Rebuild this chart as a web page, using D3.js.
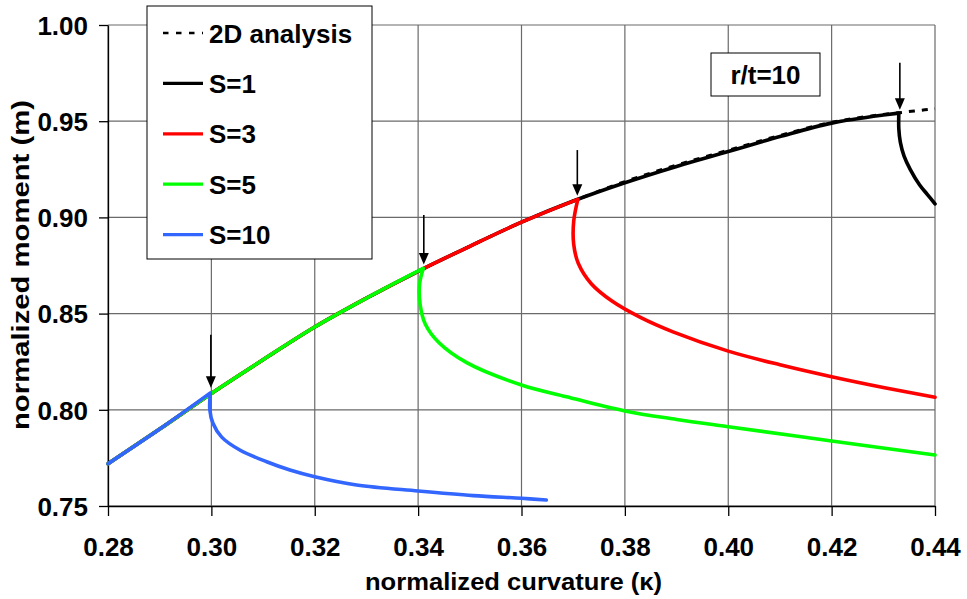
<!DOCTYPE html>
<html>
<head>
<meta charset="utf-8">
<script src="https://cdn.jsdelivr.net/npm/d3@7"></script>
<style>
  html, body { margin: 0; padding: 0; background: #fff; }
  svg { display: block; }
  text { font-family: "Liberation Sans", Arial, sans-serif; font-weight: bold; fill: #000; }
</style>
</head>
<body>
<svg id="chart" width="967" height="599"></svg>
<script>
// ---------- data ----------
const kappaTicks = [0.28, 0.30, 0.32, 0.34, 0.36, 0.38, 0.40, 0.42, 0.44];
const momentTicks = [0.75, 0.80, 0.85, 0.90, 0.95, 1.00];

const seriesNames = ["2D analysis", "S=1", "S=3", "S=5", "S=10"];

const series2D = [
  [0.28, 0.772], [0.29, 0.790], [0.30, 0.8085], [0.31, 0.826], [0.32, 0.843],
  [0.33, 0.858], [0.34, 0.872], [0.35, 0.885], [0.36, 0.8975], [0.37, 0.9085],
  [0.38, 0.9186], [0.39, 0.9272], [0.40, 0.9349], [0.41, 0.9426], [0.42, 0.9494],
  [0.43, 0.9535], [0.433, 0.9544], [0.436, 0.9553], [0.44, 0.9565]
];

const seriesS1 = [
  [0.28, 0.772], [0.29, 0.790], [0.30, 0.8085], [0.31, 0.826], [0.32, 0.843],
  [0.33, 0.858], [0.34, 0.872], [0.35, 0.885], [0.36, 0.8975], [0.37, 0.9085],
  [0.38, 0.9180], [0.39, 0.9265], [0.40, 0.9342], [0.41, 0.9420], [0.42, 0.9490],
  [0.43, 0.9532], [0.433, 0.9542],
  [0.4330, 0.946], [0.4333, 0.939], [0.4340, 0.932], [0.4352, 0.925],
  [0.4370, 0.917], [0.4385, 0.912], [0.4400, 0.907]
];

const seriesS3 = [
  [0.28, 0.772], [0.29, 0.790], [0.30, 0.8085], [0.31, 0.826], [0.32, 0.843],
  [0.33, 0.858], [0.34, 0.872], [0.35, 0.885], [0.36, 0.8975], [0.3709, 0.9094],
  [0.3701, 0.8980], [0.3701, 0.8860], [0.3710, 0.8760], [0.3735, 0.8655],
  [0.3775, 0.8565], [0.3830, 0.8480], [0.3893, 0.8405], [0.40, 0.8305], [0.41, 0.8234],
  [0.42, 0.8172], [0.43, 0.8116], [0.44, 0.8065]
];

const seriesS5 = [
  [0.28, 0.772], [0.29, 0.790], [0.30, 0.8085], [0.31, 0.826], [0.32, 0.843],
  [0.33, 0.858], [0.341, 0.8735],
  [0.3403, 0.8657], [0.3404, 0.8545], [0.3414, 0.8445], [0.3440, 0.8350],
  [0.3494, 0.8245], [0.36, 0.8129], [0.3687, 0.8068], [0.38, 0.7994],
  [0.39, 0.7950], [0.40, 0.7912], [0.42, 0.7838], [0.44, 0.7765]
];

const seriesS10 = [
  [0.28, 0.772], [0.29, 0.790], [0.2998, 0.8088],
  [0.2997, 0.8000], [0.3003, 0.7930], [0.3020, 0.7858], [0.3055, 0.7791],
  [0.3107, 0.7730], [0.3152, 0.7687], [0.32, 0.7652], [0.3281, 0.7609],
  [0.34, 0.7578], [0.3507, 0.7554], [0.36, 0.7540], [0.3648, 0.7531]
];

// bifurcation arrows: [kappa, moment at top, moment at tip]
const arrows = [
  [0.2999, 0.839, 0.8115],
  [0.3411, 0.9012, 0.8755],
  [0.3708, 0.935, 0.9112],
  [0.4332, 0.9804, 0.9560]
];

const annotationText = "r/t=10";
const xTitle = "normalized curvature (\u03ba)";
const yTitle = "normalized moment (m)";

// ---------- layout ----------
const svg = d3.select("#chart");
const L = 108, R = 935, T = 25, B = 506;

const x = d3.scaleLinear().domain([0.28, 0.44]).range([L, R]);
const y = d3.scaleLinear().domain([0.75, 1.00]).range([B, T]);

// grid
const grid = svg.append("g");
grid.selectAll("line.v").data(kappaTicks).enter().append("line")
  .attr("x1", d => x(d)).attr("x2", d => x(d)).attr("y1", T).attr("y2", B)
  .attr("stroke", "#6a6a6a").attr("stroke-width", 1.2);
grid.selectAll("line.h").data(momentTicks).enter().append("line")
  .attr("x1", L).attr("x2", R).attr("y1", d => y(d)).attr("y2", d => y(d))
  .attr("stroke", "#6a6a6a").attr("stroke-width", 1.2);

// axes
const xAxis = d3.axisBottom(x).tickValues(kappaTicks).tickFormat(d3.format(".2f"))
  .tickSizeInner(10).tickSizeOuter(0).tickPadding(22);
const yAxis = d3.axisLeft(y).tickValues(momentTicks).tickFormat(d3.format(".2f"))
  .tickSizeInner(9).tickSizeOuter(0).tickPadding(11);

const gx = svg.append("g").attr("transform", `translate(0,${B})`).call(xAxis);
const gy = svg.append("g").attr("transform", `translate(${L},0)`).call(yAxis);
[gx, gy].forEach(g => {
  g.select(".domain").attr("stroke", "#000").attr("stroke-width", 1.3);
  g.selectAll(".tick line").attr("stroke", "#000").attr("stroke-width", 1.3);
  g.selectAll(".tick text").attr("font-size", 26).attr("font-weight", "bold")
    .attr("font-family", "Liberation Sans, Arial, sans-serif").attr("fill", "#000");
});
gy.selectAll(".tick text").attr("dy", "0.36em");

// curves: pre-buckling branch (monotone in x) and smooth post-buckling branch
const preLine = d3.line().x(d => x(d[0])).y(d => y(d[1])).curve(d3.curveMonotoneX);
const postLine = d3.line().x(d => x(d[0])).y(d => y(d[1])).curve(d3.curveCatmullRom.alpha(0.5));
const plot = svg.append("g");
plot.append("path").datum(series2D).attr("d", preLine).attr("fill", "none")
  .attr("stroke", "#000").attr("stroke-width", 3).attr("stroke-dasharray", "6,7");
const colored = [
  [seriesS1, "#000000"],
  [seriesS3, "#ff0000"],
  [seriesS5, "#00ff00"],
  [seriesS10, "#3366ff"]
];
colored.forEach(([data, c]) => {
  const peak = d3.maxIndex(data, d => d[1]);
  const pre = data.slice(0, peak + 1);
  const post = data.slice(peak);
  const d = preLine(pre) + postLine(post).replace(/^M[^LC]*/, "");
  plot.append("path").attr("d", d).attr("fill", "none")
    .attr("stroke", c).attr("stroke-width", 3.6)
    .attr("stroke-linejoin", "round").attr("stroke-linecap", "round");
});

// arrows
const ag = svg.append("g");
arrows.forEach(([k, m0, m1]) => {
  const ax = x(k), y0 = y(m0), y1 = y(m1);
  ag.append("line").attr("x1", ax).attr("x2", ax).attr("y1", y0).attr("y2", y1 - 9)
    .attr("stroke", "#000").attr("stroke-width", 1.6);
  ag.append("path")
    .attr("d", `M${ax - 5},${y1 - 11.5} L${ax + 5},${y1 - 11.5} L${ax},${y1} Z`)
    .attr("fill", "#000");
});

// r/t annotation
svg.append("rect").attr("x", 711).attr("y", 53).attr("width", 109).attr("height", 43)
  .attr("fill", "#fff").attr("stroke", "#000").attr("stroke-width", 1);
svg.append("text").attr("x", 765.5).attr("y", 84).attr("text-anchor", "middle")
  .attr("font-size", 26).text(annotationText);

// legend
const lg = svg.append("g");
lg.append("rect").attr("x", 147).attr("y", 6).attr("width", 225).attr("height", 253)
  .attr("fill", "#fff").attr("stroke", "#000").attr("stroke-width", 1);
const legendColors = ["#000000", "#000000", "#ff0000", "#00ff00", "#3366ff"];
seriesNames.forEach((name, i) => {
  const cy = 33 + i * 50.4;
  lg.append("line").attr("x1", 163).attr("x2", 203).attr("y1", cy).attr("y2", cy)
    .attr("stroke", legendColors[i]).attr("stroke-width", i === 0 ? 2.6 : 3.2)
    .attr("stroke-dasharray", i === 0 ? "5.5,7.5" : null);
  lg.append("text").attr("x", 209).attr("y", cy + 9.5).attr("font-size", 26).text(name);
});

// axis titles
svg.append("text").attr("x", 513.5).attr("y", 590).attr("text-anchor", "middle")
  .attr("font-size", 24).attr("textLength", 297).attr("lengthAdjust", "spacingAndGlyphs")
  .text(xTitle);
svg.append("text").attr("transform", "translate(29,265) rotate(-90)").attr("text-anchor", "middle")
  .attr("font-size", 24).attr("textLength", 330).attr("lengthAdjust", "spacingAndGlyphs")
  .text(yTitle);
</script>
</body>
</html>
